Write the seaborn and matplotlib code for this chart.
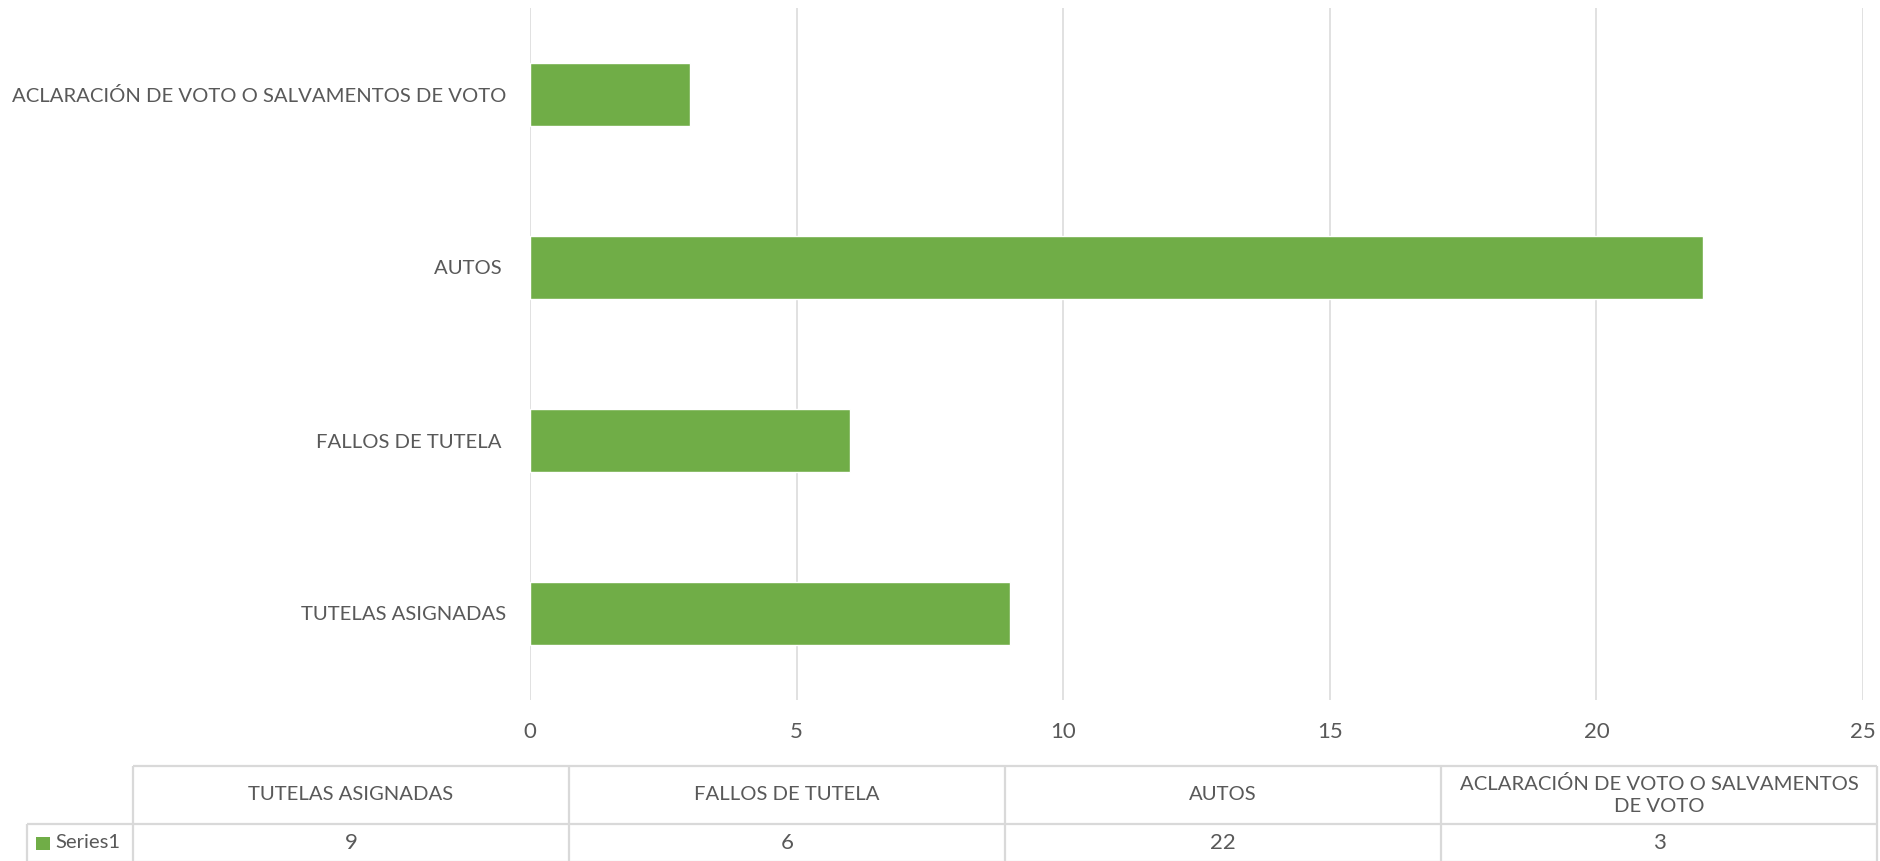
import textwrap
import numpy as np
import pandas as pd
import matplotlib
matplotlib.use('Agg')
import matplotlib.pyplot as plt
import seaborn as sns

# data
categorias = ['TUTELAS ASIGNADAS', 'FALLOS DE TUTELA ', 'AUTOS ',
              'ACLARACIÓN DE VOTO O SALVAMENTOS DE VOTO']
valores = [9, 6, 22, 3]
serie = 'Series1'
x_ticks = [0, 5, 10, 15, 20, 25]

verde = '#70AD47'
gris_txt = '#595959'
gris_lin = '#D9D9D9'
fs = 14.6      # texto
fs_num = 16    # numeros (calibri tiene cifras mas anchas)

sns.set_style('white')
plt.rcParams['font.family'] = ['Lato', 'DejaVu Sans']

W, H = 1880, 861
fig = plt.figure(figsize=(W / 100, H / 100), dpi=100)

###############################################################################
# bars (top category first on the y axis, like excel)
df = pd.DataFrame({'cat': categorias, 'val': valores})
orden = categorias[::-1]

ax = fig.add_axes([530 / W, (H - 700) / H, 1333 / W, 692 / H])
sns.barplot(data=df, x='val', y='cat', order=orden, color=verde,
            width=0.36, saturation=1, ax=ax, zorder=3)
ax.set_xlim(0, 25)
ax.set_ylim(len(orden) - 0.5, -0.5)
ax.set_xticks(x_ticks)
ax.xaxis.grid(True, color=gris_lin, linewidth=1.1, zorder=0)
ax.yaxis.grid(False)
for s in ax.spines.values():
    s.set_visible(False)
ax.set_xlabel('')
ax.set_ylabel('')
ax.tick_params(axis='y', length=0, pad=17, labelsize=fs, labelcolor=gris_txt)
ax.tick_params(axis='x', length=0, pad=16, labelsize=fs_num, labelcolor=gris_txt)

###############################################################################
# data table under the chart (pixel coordinates of the figure)
tab = fig.add_axes([0, 0, 1, 1], zorder=-1)
tab.set_xlim(0, W)
tab.set_ylim(H, 0)
tab.axis('off')

x0, x1 = 133, 1877
y_top, y_mid, y_bot = 766, 824, 862
n = len(categorias)
bordes = np.linspace(x0, x1, n + 1)

kw = dict(color=gris_lin, linewidth=1.6, solid_capstyle='butt')
tab.plot([x0, x1], [y_top, y_top], **kw)
tab.plot([27, x1], [y_mid, y_mid], **kw)
tab.plot([27, x1], [y_bot, y_bot], **kw)
tab.plot([27, 27], [y_mid, y_bot], **kw)
for b in bordes:
    tab.plot([b, b], [y_top, y_bot], **kw)

for i in range(n):
    cx = (bordes[i] + bordes[i + 1]) / 2
    tab.text(cx, (y_top + y_mid) / 2, textwrap.fill(categorias[i].strip(), 33),
             ha='center', va='center', fontsize=fs, color=gris_txt,
             linespacing=1.4)
    tab.text(cx, (y_mid + y_bot) / 2, str(valores[i]), ha='center',
             va='center', fontsize=fs_num, color=gris_txt)

tab.add_patch(plt.Rectangle((36, 837), 14, 13, color=verde, lw=0))
tab.text(55, (y_mid + y_bot) / 2, serie, ha='left', va='center',
         fontsize=fs, color=gris_txt)

fig.savefig('out.png', dpi=100)
